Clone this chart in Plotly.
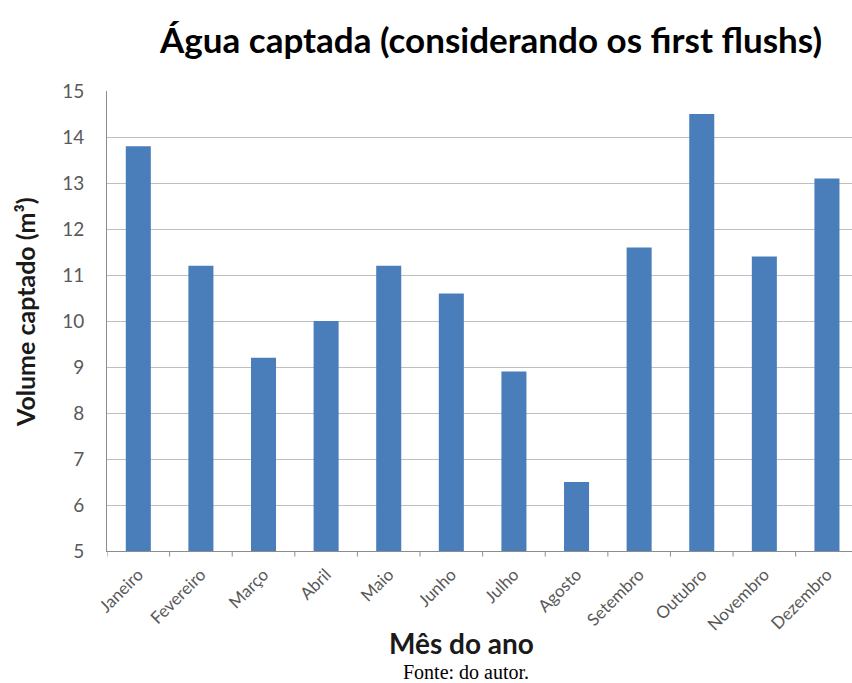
import plotly.graph_objects as go

# Monthly harvested rainwater volume (m³), accounting for first-flush diversion
meses = ["Janeiro", "Fevereiro", "Março", "Abril", "Maio", "Junho",
         "Julho", "Agosto", "Setembro", "Outubro", "Novembro", "Dezembro"]
volume = [13.8, 11.2, 9.2, 10.0, 11.2, 10.6, 8.9, 6.5, 11.6, 14.5, 11.4, 13.1]
y_ticks = [5, 6, 7, 8, 9, 10, 11, 12, 13, 14, 15]

W, H = 852, 683
L, R, T, B = 107, 0, 91, 132
plot_w = W - L - R
plot_h = H - T - B


def px(x):
    return (x - L) / plot_w


def py(y):
    return (H - B - y) / plot_h


fig = go.Figure(go.Bar(
    x=list(range(len(meses))),
    y=volume,
    base=0,
    width=0.4,
    marker=dict(color="#4A7EBB", line=dict(width=0)),
))

fig.update_layout(
    width=W, height=H,
    margin=dict(l=L, r=R, t=T, b=B, pad=0),
    paper_bgcolor="white",
    plot_bgcolor="white",
    showlegend=False,
    font=dict(family="Lato, Open Sans, sans-serif", color="#595959"),
    xaxis=dict(
        range=[-0.5, 11.4],
        tickmode="array",
        tickvals=list(range(len(meses))),
        ticktext=meses,
        tickangle=-45,
        tickfont=dict(size=17, color="#595959"),
        showgrid=False,
        showline=True, linecolor="#8c8c8c", linewidth=1,
        ticks="", ticklabelstandoff=6,
        zeroline=False,
    ),
    yaxis=dict(
        range=[5, 15],
        tickmode="array",
        tickvals=y_ticks,
        tickfont=dict(size=19, color="#595959"),
        showgrid=True, gridcolor="#bfbfbf", gridwidth=1.3,
        showline=True, linecolor="#8c8c8c", linewidth=1,
        ticks="", ticklabelstandoff=18,
        zeroline=False,
    ),
)

# category separator ticks below the x axis
for k in range(len(meses)):
    fig.add_shape(type="line", xref="x", yref="paper",
                  x0=k - 0.5, x1=k - 0.5, y0=0, y1=-0.012,
                  line=dict(color="#8c8c8c", width=1))

fig.add_annotation(text="<b>Água captada (considerando os first flushs)</b>",
                   xref="paper", yref="paper", x=px(490), y=py(39),
                   xanchor="center", yanchor="middle", showarrow=False,
                   font=dict(size=35, color="#000000", family="Lato, sans-serif"))
fig.add_annotation(text="<b>Volume captado (m³)</b>",
                   xref="paper", yref="paper", x=px(25), y=py(312),
                   xanchor="center", yanchor="middle", showarrow=False, textangle=-90,
                   font=dict(size=25, color="#1a1a1a", family="Lato, sans-serif"))
fig.add_annotation(text="<b>Mês do ano</b>",
                   xref="paper", yref="paper", x=px(461), y=py(643),
                   xanchor="center", yanchor="middle", showarrow=False,
                   font=dict(size=28, color="#1a1a1a", family="Lato, sans-serif"))
fig.add_annotation(text="Fonte: do autor.",
                   xref="paper", yref="paper", x=px(466), y=py(672),
                   xanchor="center", yanchor="middle", showarrow=False,
                   font=dict(size=20, color="#000000",
                             family="Liberation Serif, Times New Roman, serif"))

fig.write_html("out.html")
